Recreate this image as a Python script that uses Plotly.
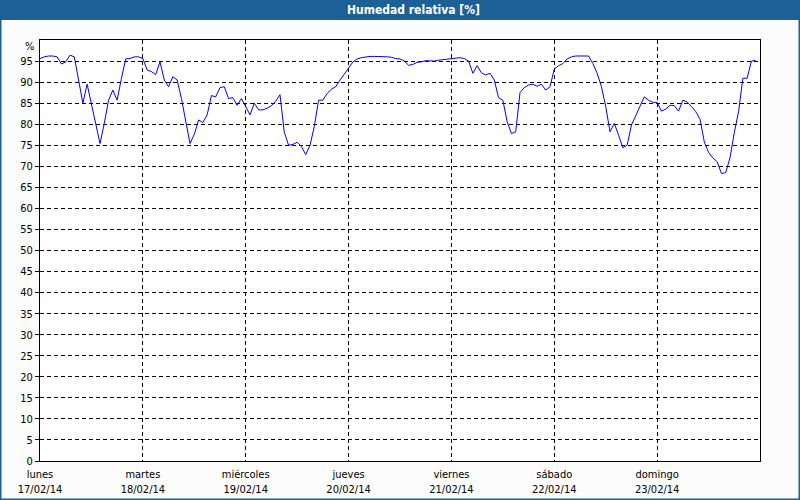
import pandas as pd
import plotly.graph_objects as go

# Hourly relative humidity (%) from lunes 17/02/14 00:00
humidity = [
    95.6, 96.0, 96.2, 96.2, 96.0, 94.3, 94.8, 96.4, 96.0, 90.1, 85.0, 89.5,
    84.8, 80.1, 75.4, 80.2, 85.7, 88.1, 85.7, 90.9, 95.5, 95.6, 96.0, 96.0,
    95.6, 92.9, 92.5, 91.8, 94.8, 90.5, 88.9, 91.3, 90.5, 86.1, 80.6, 75.4,
    77.6, 81.0, 80.4, 82.2, 86.8, 86.5, 88.7, 88.9, 86.1, 86.3, 84.5, 86.1,
    84.2, 82.2, 85.0, 83.4, 83.4, 83.8, 84.4, 85.5, 87.0, 78.1, 75.0, 75.2,
    75.7, 74.7, 72.8, 75.0, 79.4, 85.7, 85.7, 87.3, 88.3, 88.9, 90.5, 91.8,
    93.3, 94.8, 95.5, 95.8, 96.0, 96.1, 96.1, 96.1, 96.1, 96.0, 95.9, 95.6,
    95.5, 95.0, 94.0, 94.2, 94.7, 94.8, 95.1, 95.0, 95.0, 95.2, 95.3, 95.5,
    95.6, 95.7, 95.8, 95.6, 95.0, 92.1, 93.9, 92.2, 91.7, 92.1, 90.5, 86.3,
    85.7, 80.6, 77.8, 78.2, 87.5, 88.7, 89.3, 89.5, 89.0, 89.5, 88.1, 88.9,
    93.1, 93.9, 94.4, 95.5, 96.0, 96.2, 96.2, 96.2, 96.2, 94.4, 92.1, 88.9,
    84.2, 78.2, 80.2, 77.4, 74.4, 75.0, 79.8, 82.0, 84.2, 86.5, 85.7, 85.2,
    85.2, 83.1, 83.6, 84.5, 84.4, 83.1, 85.7, 85.3, 84.2, 83.0, 81.2, 75.8,
    73.3, 72.0, 71.1, 68.3, 68.5, 72.0, 78.0, 83.0, 90.9, 90.9, 95.0, 95.2,
]
start = "2014-02-17 00:00"
times = pd.date_range(start, periods=len(humidity), freq="h")

day_names = ["lunes", "martes", "miércoles", "jueves", "viernes", "sábado", "domingo"]
day_dates = ["17/02/14", "18/02/14", "19/02/14", "20/02/14", "21/02/14", "22/02/14", "23/02/14"]
day_ticks = pd.date_range(start, periods=7, freq="D")
y_ticks = list(range(0, 100, 5))

title_text = "Humedad relativa [%]"
unit_text = "%"

FONT = "DejaVu Sans Condensed, Tahoma, Liberation Sans, sans-serif"
BAR = "#1d6096"

fig = go.Figure()
fig.add_trace(go.Scatter(
    x=times, y=humidity, mode="lines",
    line=dict(color="#0000ff", width=1), showlegend=False, hoverinfo="skip",
))

W, H = 800, 500
L, R, T, B = 40, 40, 40, 39
pw, ph = W - L - R, H - T - B

def px(x):
    return (x - L) / pw

def py(y):
    return (H - B - y) / ph

shapes = [
    # title bar
    dict(type="rect", xref="paper", yref="paper", x0=px(0), x1=px(W), y0=py(20), y1=py(0),
         fillcolor=BAR, line=dict(width=0), layer="above"),
    # window border
    dict(type="rect", xref="paper", yref="paper", x0=px(0.5), x1=px(W - 0.5), y0=py(H - 0.5), y1=py(0.5),
         fillcolor="rgba(0,0,0,0)", line=dict(color=BAR, width=2), layer="above"),
]

annotations = [
    dict(text="<b>" + title_text + "</b>", xref="paper", yref="paper", x=px(413), y=py(10),
         xanchor="center", yanchor="middle", showarrow=False,
         font=dict(family=FONT, size=12, color="white")),
    dict(text=unit_text, xref="paper", yref="paper", x=px(36), y=py(46),
         xanchor="right", yanchor="middle", showarrow=False,
         font=dict(family=FONT, size=11, color="black")),
]

fig.update_layout(
    width=W, height=H,
    margin=dict(l=L, r=R, t=T, b=B, pad=0),
    paper_bgcolor="#fbfcfb", plot_bgcolor="white",
    font=dict(family=FONT, size=11, color="black"),
    shapes=shapes, annotations=annotations,
    xaxis=dict(
        range=[day_ticks[0], pd.Timestamp("2014-02-24 00:00")],
        tickvals=list(day_ticks),
        ticktext=[f"{n}<br>{d}" for n, d in zip(day_names, day_dates)],
        showgrid=True, gridcolor="black", griddash="4px,3px", gridwidth=1,
        showline=True, linecolor="black", linewidth=1, mirror=True,
        ticks="outside", ticklen=3, tickcolor="rgba(0,0,0,0)",
        zeroline=False, tickfont=dict(size=11, color="black"), automargin=False,
    ),
    yaxis=dict(
        range=[0, 100], tickvals=y_ticks,
        showgrid=True, gridcolor="black", griddash="4px,3px", gridwidth=1,
        showline=True, linecolor="black", linewidth=1, mirror=True,
        ticks="outside", ticklen=4, tickcolor="black", zeroline=False,
        tickfont=dict(size=11, color="black"), automargin=False,
    ),
)

fig.write_html(
    "out.html",
    config={"displayModeBar": False, "staticPlot": True},
    post_script="document.body.style.margin='0px';document.body.style.overflow='hidden';",
)
